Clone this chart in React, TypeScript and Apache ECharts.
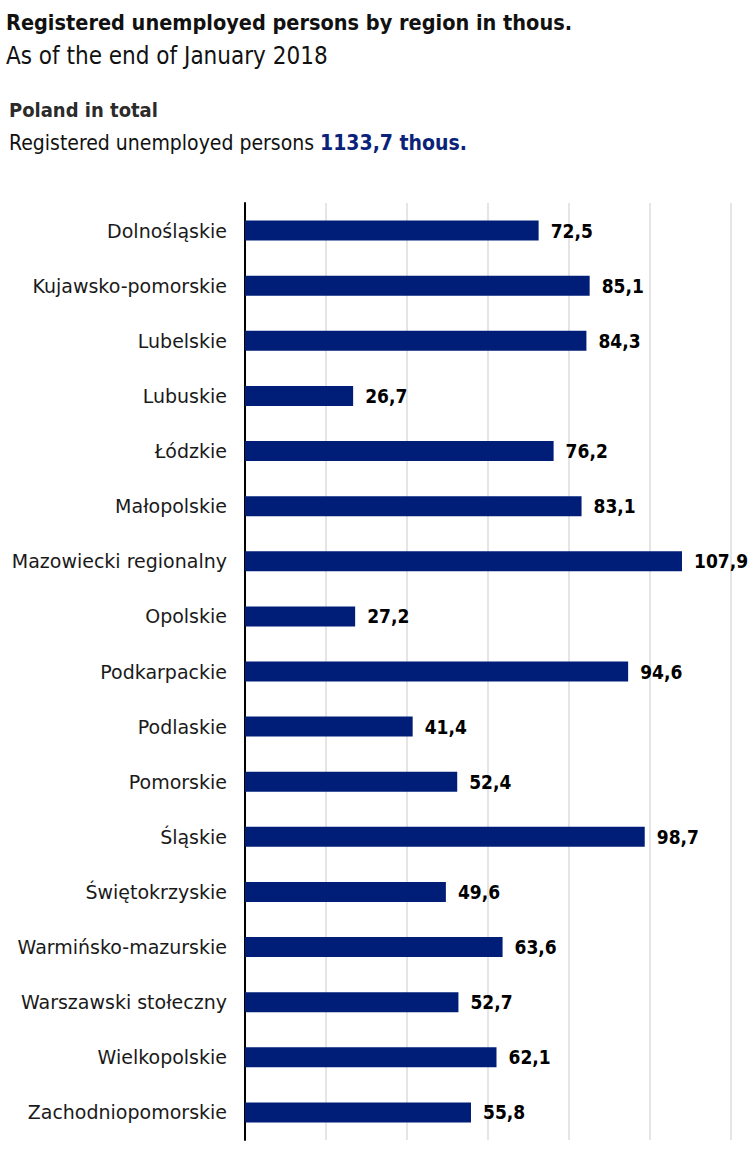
import React, { useEffect, useRef } from "react";
import * as echarts from "echarts";

const categories = [
  "Dolnośląskie",
  "Kujawsko-pomorskie",
  "Lubelskie",
  "Lubuskie",
  "Łódzkie",
  "Małopolskie",
  "Mazowiecki regionalny",
  "Opolskie",
  "Podkarpackie",
  "Podlaskie",
  "Pomorskie",
  "Śląskie",
  "Świętokrzyskie",
  "Warmińsko-mazurskie",
  "Warszawski stołeczny",
  "Wielkopolskie",
  "Zachodniopomorskie",
];
const values = [72.5, 85.1, 84.3, 26.7, 76.2, 83.1, 107.9, 27.2, 94.6, 41.4, 52.4, 98.7, 49.6, 63.6, 52.7, 62.1, 55.8];
const titleText = "Registered unemployed persons by region in thous.";
const subtitleText = "As of the end of January 2018";
const totalHeading = "Poland in total";
const totalLabel = "Registered unemployed persons";
const totalValue = "1133,7 thous.";

const COND = "'DejaVu Sans Condensed', 'DejaVu Sans', sans-serif";
const REG = "'DejaVu Sans', sans-serif";

export default function App() {
  const ref = useRef<HTMLDivElement>(null);
  useEffect(() => {
    document.body.style.margin = "0";
    const chart = echarts.init(ref.current!, null, { renderer: "svg" });
    chart.setOption({
      animation: false,
      backgroundColor: "#ffffff",
      graphic: [
        { type: "text", left: 6, top: 11, style: { text: titleText, font: `bold 21.5px ${COND}`, fill: "#111" } },
        { type: "text", left: 6, top: 44, style: { text: subtitleText, font: `24px ${COND}`, fill: "#111" } },
        { type: "text", left: 9, top: 100, style: { text: totalHeading, font: `bold 20px ${COND}`, fill: "#2b2b2b" } },
        {
          type: "text",
          left: 9,
          top: 132,
          style: {
            text: `{a|${totalLabel} }{b|${totalValue}}`,
            rich: {
              a: { font: `21px ${COND}`, fill: "#111" },
              b: { font: `bold 21px ${COND}`, fill: "#0a2279" },
            },
          },
        },
      ],
      grid: { left: 245, right: 23, top: 203, bottom: 25, containLabel: false },
      xAxis: {
        type: "value",
        min: 0,
        max: 120,
        interval: 20,
        axisLabel: { show: false },
        axisLine: { show: false },
        axisTick: { show: false },
        splitLine: { show: true, lineStyle: { color: "#dddddd", width: 1.5 } },
      },
      yAxis: {
        type: "category",
        data: categories,
        inverse: true,
        axisLine: { show: true, lineStyle: { color: "#000", width: 2 } },
        axisTick: { show: false },
        axisLabel: { fontFamily: REG, fontSize: 19, color: "#1a1a1a", margin: 18 },
      },
      series: [
        {
          type: "bar",
          data: values,
          barWidth: 20,
          itemStyle: { color: "#001e78" },
          label: {
            show: true,
            position: "right",
            distance: 12,
            fontFamily: COND,
            fontWeight: "bold",
            fontSize: 19,
            color: "#000",
            formatter: (p: any) => String(p.value.toFixed(1)).replace(".", ","),
          },
        },
      ],
    });
    return () => chart.dispose();
  }, []);
  return <div ref={ref} style={{ width: 754, height: 1165 }} />;
}
